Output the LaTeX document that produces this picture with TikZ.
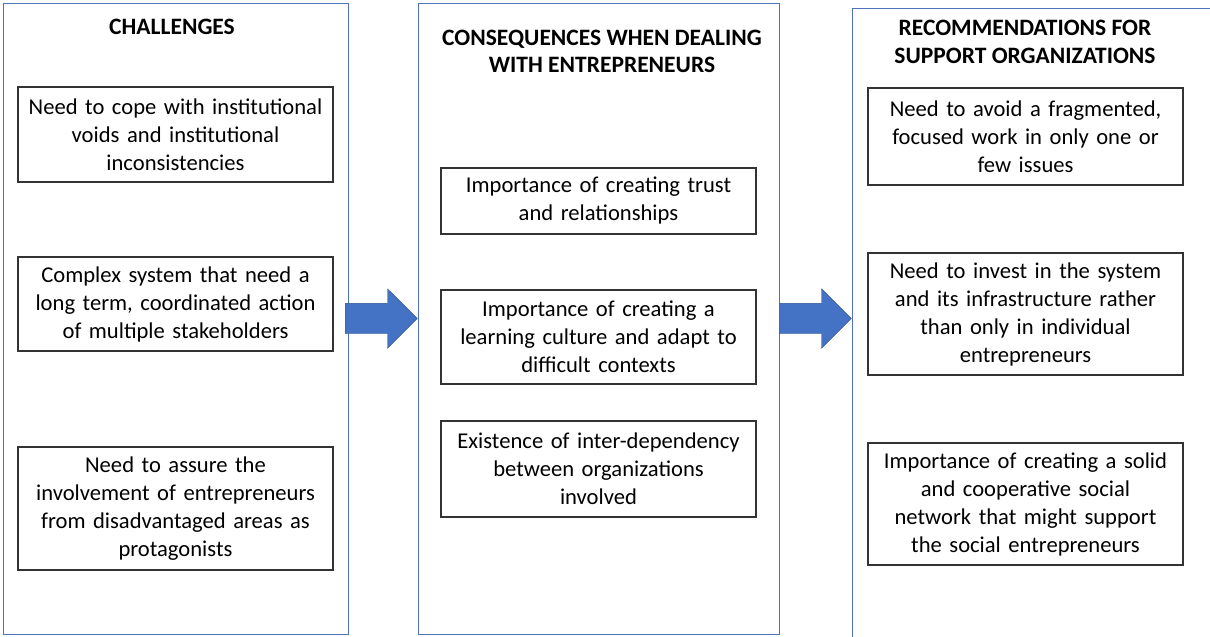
\documentclass[tikz,border=0pt]{standalone}
\usepackage{fontspec}
\setmainfont{Carlito}
\usetikzlibrary{shapes.arrows,calc}
\definecolor{colblue}{RGB}{79,114,190}
\definecolor{arrowblue}{RGB}{68,114,196}
\definecolor{arrowedge}{RGB}{47,82,143}
\tikzset{
  column/.style={draw=colblue, line width=1pt, minimum width=#1, inner sep=0pt},
  header/.style={align=center, font=\fontsize{23.5}{27.5}\selectfont\bfseries},
  item/.style={draw=black!80, line width=1.1pt, minimum width=315pt, inner sep=0pt,
    align=center, font=\fontsize{22.6}{28}\selectfont, text width=312pt},
  bigarrow/.style={single arrow, fill=arrowblue, draw=arrowedge, line width=0.4pt,
    inner xsep=0pt, inner ysep=15pt, single arrow head extend=14.5pt,
    minimum height=72pt, anchor=tip}
}
\begin{document}
\begin{tikzpicture}[x=1pt,y=-1pt]
\useasboundingbox (0,0) rectangle (1210,637);

\node[column=345pt, minimum height=631pt] (chal) at (175.5,318.5) {};
\node[column=361pt, minimum height=631pt] (cons) at (598.5,318.5) {};
\node[column=363pt, minimum height=637pt] (reco) at (1033.5,326.5) {};

\node[header] (chalhead) at (172,27) {CHALLENGES};
\node[header] (conshead) at (602,51.5) {CONSEQUENCES WHEN DEALING\\WITH ENTREPRENEURS};
\node[header] (recohead) at (1025,42) {RECOMMENDATIONS FOR\\SUPPORT ORGANIZATIONS};

\node[item, minimum height=95pt] (chal1) at (175.5,134.5)
  {Need to cope with institutional\\voids and institutional\\inconsistencies};
\node[item, minimum height=94pt] (chal2) at (175.5,304)
  {Complex system that need a\\long term, coordinated action\\of multiple stakeholders};
\node[item, minimum height=123pt] (chal3) at (175.5,508.5)
  {Need to assure the\\involvement of entrepreneurs\\from disadvantaged areas as\\protagonists};

\node[item, minimum height=66pt] (cons1) at (598.5,201)
  {Importance of creating trust\\and relationships};
\node[item, minimum height=94pt] (cons2) at (598.5,337)
  {Importance of creating a\\learning culture and adapt to\\difficult contexts};
\node[item, minimum height=96pt] (cons3) at (598.5,469)
  {Existence of inter-dependency\\between organizations\\involved};

\node[item, minimum height=97pt] (reco1) at (1025.5,136.5)
  {Need to avoid a fragmented,\\focused work in only one or\\few issues};
\node[item, minimum height=122pt] (reco2) at (1025.5,314)
  {Need to invest in the system\\and its infrastructure rather\\than only in individual\\entrepreneurs};
\node[item, minimum height=122pt] (reco3) at (1025.5,504)
  {Importance of creating a solid\\and cooperative social\\network that might support\\the social entrepreneurs};

\coordinate (midline) at (0,318.5);
\node[bigarrow] (arrowA) at (cons.west |- midline) {};
\node[bigarrow] (arrowB) at (reco.west |- midline) {};
\end{tikzpicture}
\end{document}
